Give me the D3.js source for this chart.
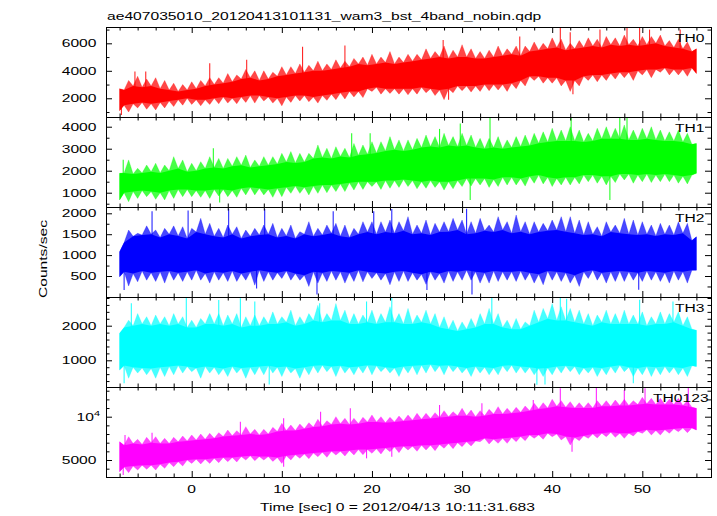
<!DOCTYPE html>
<html><head><meta charset="utf-8">
<script src="https://cdn.jsdelivr.net/npm/d3@7"></script>
<style>
body{margin:0;background:#fff}
svg{display:block}
text{font-family:"Liberation Sans",Arial,Helvetica,sans-serif;fill:#000}
</style>
</head><body>
<svg id="c" width="717" height="516"></svg>
<script>
// ---------- data ----------
const title = "ae407035010_20120413101131_wam3_bst_4band_nobin.qdp";
const xTitle = "Time [sec] 0 = 2012/04/13 10:11:31.683";
const yTitle = "Counts/sec";
// envelope samples on whole seconds (peaks) and on the half seconds in between (troughs)
const seconds = [-8,-7,-6,-5,-4,-3,-2,-1,0,1,2,3,4,5,6,7,8,9,10,11,12,13,14,15,16,17,18,19,20,21,22,23,24,25,26,27,28,29,30,31,32,33,34,35,36,37,38,39,40,41,42,43,44,45,46,47,48,49,50,51,52,53,54,55,56];
const xMajorTicks = [0,10,20,30,40,50];
const xMinorTicks = [-8,-6,-4,-2,2,4,6,8,12,14,16,18,22,24,26,28,32,34,36,38,42,44,46,48,52,54,56];

const th0Hi = [2700,3300,3600,3400,3500,3300,3100,3000,3200,3300,
  3500,3500,3800,3700,4100,4000,4000,3900,4300,4300,
  4500,4400,4700,4500,4800,4700,4900,5000,5200,5000,
  5400,5000,5200,5200,5600,5400,5800,5500,5900,5600,
  5400,5500,5800,5600,5800,5800,6100,6000,6400,6300,
  6000,6200,6400,6300,6500,6400,6600,6300,6500,6500,
  6600,6200,6300,6100,5600];
const th0HiHalf = [2600,2900,2800,2900,2700,2600,2500,2600,2700,2900,
  3000,3100,3200,3400,3500,3300,3400,3600,3700,3800,
  3900,4000,4000,4100,4200,4300,4500,4400,4500,4600,
  4500,4600,4700,4800,4900,5000,4900,5000,5000,4900,
  4900,5000,5100,5200,5100,5400,5500,5600,5700,5500,
  5600,5700,5800,5700,5900,5800,5900,5800,5900,6000,
  5800,5700,5600,5400];
const th0Lo = [1100,1000,1300,1200,1150,1300,1400,1500,1550,1450,
  1550,1600,1650,1600,1700,1650,1800,1650,1450,1700,
  1800,1750,1650,1850,1900,1950,2100,2050,2500,2300,
  2350,2300,2250,2300,2400,2200,1900,2400,2550,2450,
  2500,2550,2600,2500,2700,2900,3300,3100,3100,2900,
  2500,2900,3300,3200,3300,3400,3500,3300,3700,3500,
  3900,3700,3700,3600,3800];
const th0LoHalf = [1500,1600,1700,1600,1700,1800,1900,2000,1900,1900,
  2000,2100,2000,2100,2200,2200,2100,2000,2100,2200,
  2200,2100,2200,2300,2400,2500,2500,2700,2800,2700,
  2700,2700,2700,2800,2700,2600,2700,2900,2900,2900,
  3000,3000,3000,3100,3300,3600,3600,3500,3500,3300,
  3300,3600,3700,3700,3800,3900,3900,4000,4100,4100,
  4200,4100,4100,4200];
const th0Spikes = [[-7.8,780],[-6.3,3950],[-5.1,3950],[2.0,4550],[6.1,4800],[12.3,5750],[17.0,5850],
  [27.9,6250],[28.5,1900],[36.4,6500],[40.9,7150],[42.0,6800],[42.3,2300],[45.3,7000],[48.3,7150],[49.7,7150],[50.8,7000],[54.2,7000]];

const th1Hi = [1880,2490,2110,2260,2340,2260,2640,2490,2340,2410,
  2640,2560,2560,2640,2710,2490,2640,2640,2790,2870,
  2790,2790,3170,3020,3090,3020,3240,3170,3320,3320,
  3550,3400,3400,3470,3620,3550,3700,3550,3700,3620,
  3470,3470,3550,3400,3550,3620,3700,3770,3930,3850,
  4000,3850,3700,3930,4000,3930,4080,3850,3930,4000,
  3850,3770,3850,3700,3240];
const th1HiHalf = [1900,1850,1900,1950,1900,2000,2100,1950,2000,2100,
  2150,2100,2200,2250,2150,2200,2250,2300,2400,2350,
  2400,2550,2600,2550,2650,2600,2700,2750,2800,2900,
  2950,2900,2950,3050,3100,3050,3150,3100,3150,3050,
  3000,3050,3000,3050,3100,3150,3250,3300,3350,3350,
  3350,3300,3350,3450,3450,3450,3400,3400,3450,3400,
  3350,3350,3300,3200];
const th1Lo = [670,590,740,820,700,670,740,820,820,790,
  740,850,820,790,900,900,900,790,820,970,
  970,900,970,1000,1050,1050,1120,1150,1280,1150,
  1200,1240,1280,1180,1200,1240,1120,1180,1280,1300,
  1350,1240,1280,1350,1350,1300,1430,1400,1280,1350,
  1350,1400,1500,1430,1350,1460,1580,1430,1500,1460,
  1500,1500,1430,1400,1880];
const th1LoHalf = [1000,1050,1100,1050,1000,1100,1150,1150,1100,1100,
  1150,1150,1100,1200,1250,1200,1150,1200,1250,1300,
  1250,1300,1350,1350,1400,1450,1500,1500,1500,1550,
  1550,1600,1550,1500,1550,1500,1500,1550,1650,1650,
  1650,1600,1700,1700,1650,1750,1800,1700,1650,1700,
  1700,1800,1800,1750,1750,1850,1850,1800,1850,1800,
  1850,1800,1750,1800];
const th1Spikes = [[-7.6,2500],[2.4,3020],[3.1,560],[17.75,3700],[19.8,3700],[27.5,3900],[29.8,4150],
  [30.9,670],[33.1,4420],[42.1,4420],[46.4,670],[47.5,4420],[48.3,4420]];

const th2Hi = [1080,1600,1520,1700,1600,1640,1700,1680,1640,1880,
  1760,1640,1720,1680,1600,1640,1720,1760,1640,1720,
  1560,1800,1640,1720,1760,1720,1640,1800,1800,1800,
  1840,1800,1920,1720,1840,1760,1800,1880,1840,1800,
  1880,1720,1920,1800,1960,1800,1800,1760,1840,1920,
  1920,1840,1800,1680,1800,1720,1880,1840,1800,1720,
  1760,1720,1800,1760,1440];
const th2HiHalf = [1300,1450,1480,1500,1420,1500,1460,1400,1550,1500,
  1450,1420,1500,1400,1450,1480,1500,1420,1460,1400,
  1500,1450,1480,1520,1450,1420,1500,1550,1500,1550,
  1520,1580,1500,1520,1480,1550,1560,1600,1500,1520,
  1580,1550,1600,1520,1560,1500,1550,1580,1600,1560,
  1520,1480,1500,1450,1550,1520,1500,1480,1500,1460,
  1500,1480,1520,1350];
const th2Lo = [480,260,360,400,370,330,400,370,400,400,
  330,400,370,370,400,280,370,400,440,400,
  400,250,330,370,400,330,370,360,440,400,
  290,370,370,400,300,400,330,370,400,400,
  330,330,370,400,370,400,330,290,400,370,
  330,250,440,400,330,370,370,400,370,400,
  370,330,400,330,640];
const th2LoHalf = [600,560,620,580,600,620,580,600,640,560,
  600,580,620,560,600,640,600,580,620,560,
  520,600,580,620,600,580,640,600,580,560,
  600,620,580,540,600,560,620,600,640,600,
  580,620,600,600,620,580,540,620,600,580,
  520,600,640,580,600,620,600,580,620,600,
  580,620,600,640];
const th2Spikes = [[-7.5,165],[-4.4,2050],[-0.4,2070],[4.1,2110],[7.2,200],[8.1,2100],[13.9,60],[15.7,2050],
  [20.2,2050],[22.2,2100],[26.1,165],[30.5,2110],[31.1,60],[49.6,170]];

const th3Hi = [1780,2160,2350,2260,2310,2260,2350,2260,2160,2210,
  2350,2350,2310,2350,2260,2310,2260,2400,2260,2450,
  2260,2350,2590,2350,2640,2450,2350,2310,2450,2350,
  2550,2350,2500,2310,2450,2350,2260,2160,2110,2210,
  2350,2500,2350,2160,2210,2110,2450,2500,2640,2550,
  2500,2450,2350,2310,2450,2350,2450,2310,2400,2260,
  2400,2350,2400,2260,1870];
const th3HiHalf = [1950,2000,2050,2000,2050,2000,2050,1950,1950,2050,
  2050,2000,2050,1950,2000,2000,2050,2050,2100,2000,
  2050,2150,2100,2150,2150,2050,2050,2100,2050,2100,
  2100,2050,2050,2100,2050,1950,1900,1850,1900,1950,
  2050,2050,1950,1900,1900,2000,2100,2200,2150,2150,
  2100,2050,2000,2100,2050,2050,2050,2050,2000,2050,
  2050,2100,2000,1900];
const th3Lo = [720,480,630,580,480,530,580,630,670,480,
  630,580,530,630,480,580,580,630,530,630,
  480,580,630,670,530,630,580,630,580,670,
  630,530,630,580,630,670,580,670,630,530,
  630,580,580,670,630,630,580,530,580,630,
  670,580,630,530,580,630,670,530,580,530,
  580,630,580,530,820];
const th3LoHalf = [850,800,780,760,800,820,850,820,780,820,
  800,760,820,780,800,820,840,800,820,760,
  800,840,860,820,840,800,820,860,840,800,
  780,820,840,860,880,840,860,820,780,820,
  800,780,840,860,820,800,760,780,820,840,
  820,780,800,780,820,860,800,780,820,800,
  820,800,780,840];
const th3Spikes = [[-7.5,340],[-6.7,2650],[-0.6,2830],[3.0,2740],[5.4,2790],[7.0,2700],[8.6,300],[14.2,2650],
  [19.4,2700],[22.2,2800],[33.3,2830],[38.3,290],[39.2,300],[40.9,2830],[41.6,2780],[49.0,340],[49.7,2750],[53.4,2700]];

const th0123Hi = [7120,7690,7390,7620,7690,7500,7620,7770,7890,8000,
  8080,8160,8460,8390,8850,8540,8540,8770,9230,9040,
  9160,9310,9700,9540,10000,9810,9810,9930,10200,10000,
  9930,10080,10200,10390,10390,10470,10700,10580,10970,10770,
  10700,10850,11160,10970,11080,11240,11540,11620,12010,11850,
  11740,11620,11620,11850,11850,11930,12010,11850,12240,12120,
  12120,12010,12120,11850,10970];
const th0123HiHalf = [6700,6900,6800,7000,6900,6900,7100,7200,7300,7400,
  7500,7700,7800,7900,8000,7900,8000,8300,8400,8400,
  8600,8800,8900,9100,9200,9100,9200,9400,9400,9300,
  9400,9500,9600,9700,9800,9900,10000,10100,10100,10000,
  10100,10300,10300,10400,10500,10700,10900,11000,11200,11100,
  11000,11000,11000,11200,11200,11300,11300,11400,11500,11400,
  11400,11400,11300,11100];
const th0123Lo = [3650,3540,3840,3920,3840,4040,4230,4310,4610,4540,
  4610,4690,4810,4770,5000,4920,5000,4840,4610,5000,
  5190,5150,5380,5310,5580,5460,5580,5610,5770,5690,
  5960,5850,6150,6000,6150,6080,6350,6310,6540,6620,
  7120,6850,6920,6920,7120,7230,7500,7390,7690,7310,
  6730,7230,7500,7540,7690,7620,7500,7770,8080,7890,
  7890,8080,8270,8160,8460];
const th0123LoHalf = [4200,4300,4400,4400,4500,4700,4800,5000,5100,5100,
  5200,5300,5300,5400,5500,5400,5400,5300,5500,5600,
  5700,5800,5900,6000,6000,6100,6200,6200,6300,6400,
  6500,6600,6600,6700,6700,6800,6900,7000,7100,7200,
  7500,7400,7500,7600,7700,7900,7900,8100,8000,7700,
  7600,7800,8000,8100,8200,8100,8100,8300,8500,8400,
  8500,8600,8700,8700];
const th0123Spikes = [[-7.4,7890],[-7.6,3270],[-4.4,8160],[5.4,9420],[10.2,9810],[10.2,4230],[14.3,10580],[17.6,10970],
  [19.4,5190],[22.2,5380],[27.5,11350],[32.2,11540],[37.9,11930],[40.9,13280],[42.2,5960],[44.9,13470],[48.0,13080],[50.3,13280],[55.1,13390]];

const panelNames = ["TH0","TH1","TH2","TH3","TH0123"];
const panelColors = ["#ff0000","#00ff00","#0000ff","#00ffff","#ff00ff"];
const yDomains = [[660,7210],[364,4455],[5,2158],[237,2838],[3072,13464]];
const yMajorTicks = [[2000,4000,6000],[1000,2000,3000,4000],[500,1000,1500,2000],[1000,2000],[5000,10000]];
const yMinorTicks = [[1000,3000,5000,7000],[500,1500,2500,3500],[250,750,1250,1750],
  [400,600,800,1200,1400,1600,1800,2200,2400,2600,2800],[4000,6000,7000,8000,9000,11000,12000,13000]];
const yTickLabels = [["2000","4000","6000"],["1000","2000","3000","4000"],["500","1000","1500","2000"],["1000","2000"],["5000","10^4"]];

// ---------- drawing ----------
const SX = 1.36, FS = 11.5;
const svg = d3.select("#c");
const L = 106, R = 711, TOP = 26.7, PH = 90;
const x = d3.scaleLinear().domain([-9.51, 57.62]).range([L, R]);

function txt(g, px, py, s, anchor, rot) {
  const t = g.append("text")
    .attr("transform", `translate(${px},${py})` + (rot ? ` rotate(${rot})` : "") + ` scale(${SX},1)`)
    .attr("text-anchor", anchor).attr("font-size", FS);
  const m = /^(.*)\^(.*)$/.exec(s);
  if (m) {
    t.append("tspan").text(m[1]);
    t.append("tspan").attr("font-size", 8).attr("dy", -5).text(m[2]);
  } else t.text(s);
  return t;
}

const his = [th0Hi, th1Hi, th2Hi, th3Hi, th0123Hi];
const hisH = [th0HiHalf, th1HiHalf, th2HiHalf, th3HiHalf, th0123HiHalf];
const los = [th0Lo, th1Lo, th2Lo, th3Lo, th0123Lo];
const losH = [th0LoHalf, th1LoHalf, th2LoHalf, th3LoHalf, th0123LoHalf];
const spikes = [th0Spikes, th1Spikes, th2Spikes, th3Spikes, th0123Spikes];

panelNames.forEach((name, i) => {
  const top = TOP + i * PH, bot = top + PH;
  const y = d3.scaleLinear().domain(yDomains[i]).range([bot, top]);
  const g = svg.append("g");
  const cid = "clip" + i;
  svg.append("clipPath").attr("id", cid).append("rect")
    .attr("x", L + 1).attr("y", Math.round(top) + 1).attr("width", R - L - 1).attr("height", PH - 1);
  const dg = g.append("g").attr("clip-path", `url(#${cid})`);
  const rows = [];
  const core = [];
  seconds.forEach((t, k) => {
    rows.push({t, hi: his[i][k], lo: los[i][k]});
    if (k < hisH[i].length) {
      const h = {t: t + 0.5, hi: hisH[i][k], lo: losH[i][k]};
      rows.push(h); core.push(h);
    }
  });
  core.unshift(rows[0]); core.push(rows[rows.length - 1]);
  const area = d3.area().x(d => x(d.t)).y0(d => y(d.lo)).y1(d => y(d.hi));
  // fringe (spike tips) then saturated core
  dg.append("path").datum(rows).attr("d", area)
    .attr("fill", panelColors[i]).attr("fill-opacity", 0.72)
    .attr("stroke", panelColors[i]).attr("stroke-opacity", 0.35).attr("stroke-width", 0.8);
  dg.append("path").datum(core).attr("d", area)
    .attr("fill", panelColors[i]);
  const whole = t => rows[Math.max(0, Math.min(rows.length - 1, Math.round(t * 2) + 16))];
  dg.selectAll("line.sp").data(spikes[i]).join("line")
    .attr("x1", d => x(d[0])).attr("x2", d => x(d[0]))
    .attr("y1", d => { const r = whole(d[0]); return y((r.hi + r.lo) / 2); })
    .attr("y2", d => y(d[1]))
    .attr("stroke", panelColors[i]).attr("stroke-width", 1.1).attr("stroke-opacity", 0.85);

  // frame
  g.append("rect").attr("x", L + 0.5).attr("y", Math.round(top) + 0.5)
    .attr("width", R - L).attr("height", PH).attr("fill", "none").attr("stroke", "#000").attr("stroke-width", 1);

  const axes = [
    [d3.axisLeft(y).tickValues(yMajorTicks[i]).tickSize(-6), `translate(${L},0)`],
    [d3.axisLeft(y).tickValues(yMinorTicks[i]).tickSize(-3.5), `translate(${L},0)`],
    [d3.axisRight(y).tickValues(yMajorTicks[i]).tickSize(-6), `translate(${R},0)`],
    [d3.axisRight(y).tickValues(yMinorTicks[i]).tickSize(-3.5), `translate(${R},0)`],
    [d3.axisTop(x).tickValues(xMajorTicks).tickSize(-6), `translate(0,${Math.round(top)})`],
    [d3.axisTop(x).tickValues(xMinorTicks).tickSize(-3.5), `translate(0,${Math.round(top)})`],
    [d3.axisBottom(x).tickValues(xMajorTicks).tickSize(-6), `translate(0,${Math.round(bot)})`],
    [d3.axisBottom(x).tickValues(xMinorTicks).tickSize(-3.5), `translate(0,${Math.round(bot)})`]
  ];
  axes.forEach(([ax, tr]) => {
    const a = g.append("g").attr("transform", tr).call(ax.tickFormat(""));
    a.select(".domain").remove();
    a.selectAll("line").attr("stroke", "#000");
    a.selectAll("text").remove();
  });

  yMajorTicks[i].forEach((v, k) => {
    const lab = yTickLabels[i][k];
    txt(svg, lab.includes("^") ? 100 : 96.5, y(v) + 4, lab, "end");
  });
  txt(svg, name === "TH0123" ? 653 : 675, top + 15.5, name, "start");

  if (i === panelNames.length - 1) {
    xMajorTicks.forEach(v => txt(svg, x(v), 492.5, String(v), "middle"));
  }
});

txt(svg, 107, 20, title, "start");
txt(svg, 397.5, 511, xTitle, "middle");
txt(svg, 46.5, 259, yTitle, "middle", -90);
</script>
</body></html>
